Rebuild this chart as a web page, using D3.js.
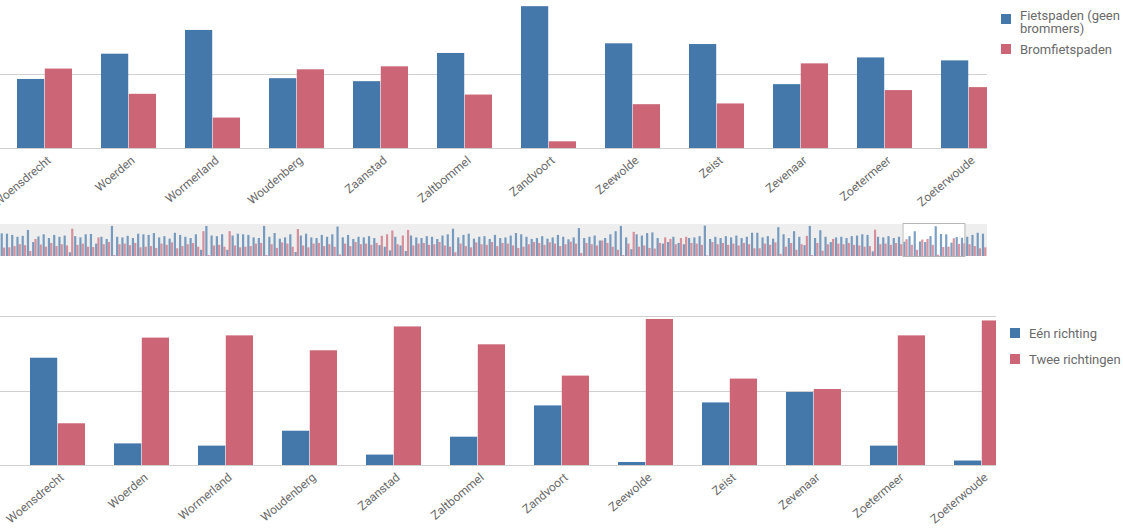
<!DOCTYPE html>
<html>
<head>
<meta charset="utf-8">
<script src="https://cdn.jsdelivr.net/npm/d3@7"></script>
<style>
  html, body { margin: 0; padding: 0; background: #fff; overflow: hidden; }
  svg { display: block; font-family: Roboto, "Liberation Sans", Arial, sans-serif; }
</style>
</head>
<body>
<svg id="chart" width="1123" height="528"></svg>
<script>
// ---------- DATA ----------
const categories = ["Woensdrecht","Woerden","Wormerland","Woudenberg","Zaanstad","Zaltbommel","Zandvoort","Zeewolde","Zeist","Zevenaar","Zoetermeer","Zoeterwoude"];

// Top chart: share of cycle paths (fraction)
const topSeries = ["Fietspaden (geen brommers)", "Bromfietspaden"];
const fietspaden    = [0.465, 0.635, 0.795, 0.47, 0.45, 0.64, 0.955, 0.705, 0.70, 0.43, 0.61, 0.59];
const bromfietspaden = [0.535, 0.365, 0.205, 0.53, 0.55, 0.36, 0.045, 0.295, 0.30, 0.57, 0.39, 0.41];

// Bottom chart: direction share (fraction)
const bottomSeries = ["Eén richting", "Twee richtingen"];
const eenRichting   = [0.72, 0.145, 0.13, 0.23, 0.07, 0.19, 0.40, 0.02, 0.42, 0.49, 0.13, 0.03];
const tweeRichtingen = [0.28, 0.855, 0.87, 0.77, 0.93, 0.81, 0.60, 0.98, 0.58, 0.51, 0.87, 0.97];

// Overview (scroll) chart: all municipalities, percent
const overviewBlue = [
  73,72,68,62,65,84,45,63,70,58,68,62,66,12,64,60,70,71,40,62,
  55,97,62,60,65,58,72,70,68,74,60,64,56,75,68,62,58,70,20,97,
  66,64,70,20,66,72,70,68,60,58,97,62,74,56,60,70,13,66,72,60,
  58,68,62,70,95,60,68,55,62,60,64,58,35,30,18,62,34,16,66,60,
  58,64,62,55,66,70,88,60,68,72,56,62,64,55,68,58,60,66,74,70,
  62,55,58,64,56,60,68,62,54,60,90,58,62,66,50,58,70,80,97,60,
  22,70,66,74,76,58,40,45,62,42,38,58,60,64,98,55,62,58,64,60,
  66,58,62,75,75,60,64,56,93,70,58,80,62,35,97,58,83,62,45,60,
  62,58,64,66,70,68,15,62,60,64,58,62,46,64,80,47,45,64,96,71,
  70,43,61,59,62,68,75,72
];
const overviewRed = [
  27,28,32,38,35,16,55,37,30,42,32,38,34,88,36,40,30,29,60,38,
  45,3,38,40,35,42,28,30,32,26,40,36,44,25,32,38,42,30,80,3,
  34,36,30,80,34,28,30,32,40,42,3,38,26,44,40,30,87,34,28,40,
  42,32,38,30,5,40,32,45,38,40,36,42,65,70,82,38,66,84,34,40,
  42,36,38,45,34,30,12,40,32,28,44,38,36,45,32,42,40,34,26,30,
  38,45,42,36,44,40,32,38,46,40,10,42,38,34,50,42,30,20,3,40,
  78,30,34,26,24,42,60,55,38,58,62,42,40,36,2,45,38,42,36,40,
  34,42,38,25,25,40,36,44,7,30,42,20,38,65,3,42,17,38,55,40,
  38,42,36,34,30,32,85,38,40,36,42,38,54,36,20,53,55,36,4,29,
  30,57,39,41,38,32,25,28
];
const overviewWindow = [172, 183.8]; // visible category index range

const topTicks = [0, 0.5];
const bottomTicks = [0, 0.5, 1];
const colors = ["#4477aa", "#cc6677"];

// ---------- DRAW ----------
const svg = d3.select("#chart");
const textColor = "#6a6a6a";
const gridColor = "#d0d0d0";

function barChart(cfg) {
  const g = svg.append("g");
  const clipId = "clip" + cfg.id;
  svg.append("defs").append("clipPath").attr("id", clipId)
    .append("rect").attr("x", 0).attr("y", cfg.y1 - 5).attr("width", cfg.right).attr("height", cfg.y0 - cfg.y1 + 10);

  const x0 = d3.scaleBand().domain(categories)
    .range([cfg.start, cfg.start + 84 * categories.length])
    .paddingInner(0.345).paddingOuter(0.1725);
  const x1 = d3.scaleBand().domain([0, 1]).range([0, x0.bandwidth()]).paddingInner(0.02);
  const y = d3.scaleLinear().domain([0, 1]).range([cfg.y0, cfg.y1]);

  // grid
  g.append("g").selectAll("line").data(cfg.ticks).join("line")
    .attr("x1", 0).attr("x2", cfg.right)
    .attr("y1", d => Math.round(y(d)) + 0.5).attr("y2", d => Math.round(y(d)) + 0.5)
    .attr("stroke", gridColor).attr("stroke-width", 1);

  const bars = g.append("g").attr("clip-path", `url(#${clipId})`);
  categories.forEach((c, i) => {
    cfg.values.forEach((arr, s) => {
      bars.append("rect")
        .attr("x", x0(c) + x1(s))
        .attr("y", y(arr[i]))
        .attr("width", x1.bandwidth())
        .attr("height", y(0) - y(arr[i]))
        .attr("fill", colors[s]);
    });
  });

  // baseline again on top
  g.append("line").attr("x1", 0).attr("x2", cfg.right)
    .attr("y1", Math.round(y(0)) + 0.5).attr("y2", Math.round(y(0)) + 0.5)
    .attr("stroke", gridColor);

  // labels
  g.append("g").selectAll("text").data(categories).join("text")
    .attr("transform", d => `translate(${x0(d) + x0.bandwidth() / 2 + 4.5},${cfg.y0 + 10.5}) rotate(-40)`)
    .attr("text-anchor", "end")
    .attr("dy", "0.35em")
    .attr("font-size", 12)
    .attr("fill", textColor)
    .text(d => d);

  // legend
  const lg = svg.append("g");
  cfg.legend.forEach((item, s) => {
    lg.append("rect").attr("x", cfg.lx).attr("y", item.sy).attr("width", 10).attr("height", 10).attr("fill", colors[s]);
    const t = lg.append("text").attr("x", cfg.lx + 19).attr("y", item.ty)
      .attr("font-size", 13).attr("fill", textColor);
    item.lines.forEach((ln, k) => {
      t.append("tspan").attr("x", cfg.lx + 19).attr("dy", k === 0 ? 0 : 12.5).text(ln);
    });
  });
}

barChart({
  id: "top", start: 2.5, right: 987, y0: 148, y1: -0.5, ticks: topTicks,
  values: [fietspaden, bromfietspaden], lx: 1001,
  legend: [
    { sy: 14, ty: 20, lines: ["Fietspaden (geen", "brommers)"] },
    { sy: 44, ty: 54, lines: [topSeries[1]] }
  ]
});

barChart({
  id: "bot", start: 15.5, right: 996, y0: 465, y1: 316, ticks: bottomTicks,
  values: [eenRichting, tweeRichtingen], lx: 1010,
  legend: [
    { sy: 328, ty: 338, lines: [bottomSeries[0]] },
    { sy: 354, ty: 364, lines: [bottomSeries[1]] }
  ]
});

// ---------- OVERVIEW ----------
const ov = svg.append("g");
const ovTop = 224, ovBot = 256, ovRight = 987;
const ox = d3.scaleBand().domain(d3.range(overviewBlue.length)).range([0, ovRight]).padding(0.1);
const oy = d3.scaleLinear().domain([0, 100]).range([ovBot, ovTop + 1]);
ov.append("rect").attr("x", 0).attr("y", ovTop).attr("width", ovRight).attr("height", ovBot - ovTop).attr("fill", "#eeeeee");
const step = ox.step();
ov.append("rect")
  .attr("x", overviewWindow[0] * step).attr("y", ovTop)
  .attr("width", (overviewWindow[1] - overviewWindow[0]) * step).attr("height", ovBot - ovTop)
  .attr("fill", "#ffffff");
const ob = d3.scaleBand().domain([0, 1]).range([0, ox.bandwidth()]).padding(0.05);
[overviewBlue, overviewRed].forEach((arr, s) => {
  ov.append("g").selectAll("rect").data(arr).join("rect")
    .attr("x", (d, i) => ox(i) + ob(s))
    .attr("y", d => oy(d))
    .attr("width", ob.bandwidth())
    .attr("height", d => ovBot - oy(d))
    .attr("fill", colors[s]).attr("opacity", 0.7);
});
ov.append("rect")
  .attr("x", overviewWindow[0] * step + 0.5).attr("y", ovTop - 0.5)
  .attr("width", (overviewWindow[1] - overviewWindow[0]) * step).attr("height", ovBot - ovTop + 1)
  .attr("fill", "none").attr("stroke", "#b8b8b8");
</script>
</body>
</html>
